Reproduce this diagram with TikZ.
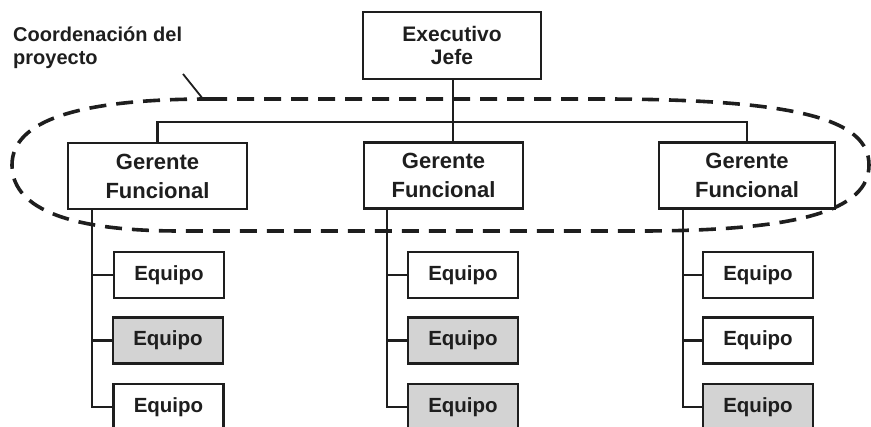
\documentclass[tikz,border=0pt]{standalone}
\usepackage{fontspec}
\setmainfont{Liberation Sans}
\definecolor{ink}{RGB}{30,30,30}
\definecolor{teamgray}{RGB}{211,211,211}
\begin{document}
\begin{tikzpicture}[x=1pt,y=-1pt,
  box/.style={draw=ink, line width=2.4pt, fill=white, inner sep=0pt, align=center,
    text=ink, font=\bfseries\fontsize{22}{29}\selectfont},
  chief/.style={box, minimum width=178pt, minimum height=67pt, font=\bfseries\fontsize{21}{24}\selectfont},
  manager/.style={box, minimum height=66pt},
  team/.style={box, minimum width=110pt, minimum height=46pt, font=\bfseries\fontsize{20.5}{24}\selectfont},
  shaded/.style={fill=teamgray},
  link/.style={draw=ink, line width=2.2pt},
  ring/.style={draw=ink, line width=3.6pt, dash pattern=on 17pt off 10pt}]
\useasboundingbox (0,0) rectangle (871,427);

% project coordination boundary
\draw[ring] (210,99) -- (600,99)
  .. controls (800,99) and (869,120) .. (869,165)
  .. controls (869,210) and (800,231) .. (640,231)
  -- (180,231)
  .. controls (60,231) and (12,205) .. (12,165)
  .. controls (12,120) and (80,99) .. (210,99);

% label and its pointer
\node[anchor=base west, align=left, inner sep=0pt, text=ink,
  font=\bfseries\fontsize{20}{23}\selectfont] (lbl) at (13,65) {Coordenación del\\proyecto};
\coordinate (tail) at (183,74);
\coordinate (tick) at (203,99);
\draw[link, line width=1.8pt] (tail) -- (tick);

% hierarchy boxes
\node[chief] (exec) at (452,45.5) {Executivo\\[-1pt]Jefe};
\node[manager, minimum width=179pt] (gf1) at (157.5,176) {Gerente\\Funcional};
\node[manager, minimum width=159pt] (gf2) at (443.5,175.5) {Gerente\\Funcional};
\node[manager, minimum width=176pt] (gf3) at (747,175.5) {Gerente\\Funcional};

\node[team] (e11) at (169,275) {Equipo};
\node[team, shaded] (e12) at (168,340.5) {Equipo};
\node[team] (e13) at (168.5,407) {Equipo};
\node[team] (e21) at (463,275) {Equipo};
\node[team, shaded] (e22) at (463,340.5) {Equipo};
\node[team, shaded] (e23) at (463,407) {Equipo};
\node[team] (e31) at (758,275) {Equipo};
\node[team] (e32) at (758,340.5) {Equipo};
\node[team, shaded] (e33) at (758,407) {Equipo};

% top-level connectors
\coordinate (bus) at (452,122);
\coordinate (drop) at (453,122);
\draw[link] (gf1.north) |- (bus) -| (gf3.north);
\draw[link] (exec.south -| drop) -- (gf2.north -| drop);

% team trunks
\coordinate (t1) at (92,209);
\coordinate (t2) at (387,208);
\coordinate (t3) at (683,208);
\draw[link] (t1) |- (e13.west);
\draw[link] (e11.west) -- (e11.west -| t1);
\draw[link] (e12.west) -- (e12.west -| t1);
\draw[link] (t2) |- (e23.west);
\draw[link] (e21.west) -- (e21.west -| t2);
\draw[link] (e22.west) -- (e22.west -| t2);
\draw[link] (t3) |- (e33.west);
\draw[link] (e31.west) -- (e31.west -| t3);
\draw[link] (e32.west) -- (e32.west -| t3);
\end{tikzpicture}
\end{document}
